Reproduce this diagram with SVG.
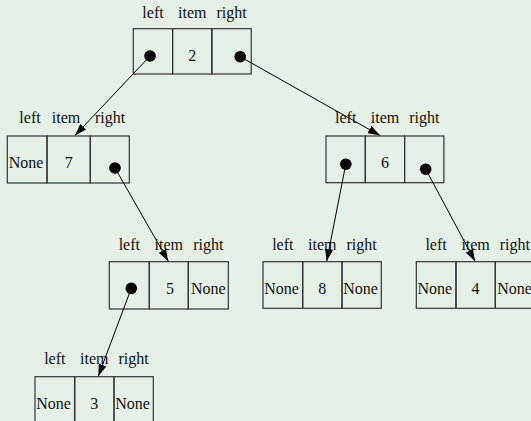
<svg xmlns="http://www.w3.org/2000/svg" width="531" height="421" viewBox="0 0 531 421">
  <defs>
    <marker id="arrow" viewBox="0 0 12 8" refX="12" refY="4" markerWidth="12" markerHeight="8" markerUnits="userSpaceOnUse" orient="auto">
      <path d="M0,0 L12,4 L0,8 Z" fill="#000"/>
    </marker>
  </defs>
  <style>
    .cell { fill: none; stroke: #333; stroke-width: 1.2; }
    .lbl { font-family: "Liberation Serif", "Times New Roman", serif; font-size: 16px; fill: #111; text-anchor: middle; }
    .dot { fill: #000; }
    .edge { stroke: #000; stroke-width: 1; fill: none; marker-end: url(#arrow); }
  </style>
  <rect x="0" y="0" width="531" height="421" fill="#e6efe5"/>

  <!-- node 2 -->
  <g id="node2">
    <rect class="cell" x="133.3" y="28.7" width="39.3" height="45.3"/>
    <rect class="cell" x="172.6" y="28.7" width="39.3" height="45.3"/>
    <rect class="cell" x="211.9" y="28.7" width="39.3" height="45.3"/>
    <text class="lbl" x="153" y="18">left</text>
    <text class="lbl" x="192.3" y="18">item</text>
    <text class="lbl" x="231.6" y="18">right</text>
    <text class="lbl" x="192.3" y="61">2</text>
    <circle class="dot" cx="150" cy="56" r="5.8"/>
    <circle class="dot" cx="240.2" cy="56.7" r="5.8"/>
  </g>

  <!-- node 7 -->
  <g id="node7">
    <rect class="cell" x="7.3" y="136" width="39.7" height="47"/>
    <rect class="cell" x="47" y="136" width="43.3" height="47"/>
    <rect class="cell" x="90.3" y="136" width="39" height="47"/>
    <text class="lbl" x="30" y="123.3">left</text>
    <text class="lbl" x="66" y="123.3">item</text>
    <text class="lbl" x="110" y="123.3">right</text>
    <text class="lbl" x="26" y="168">None</text>
    <text class="lbl" x="68.7" y="168">7</text>
    <circle class="dot" cx="115" cy="168" r="5.8"/>
  </g>

  <!-- node 6 -->
  <g id="node6">
    <rect class="cell" x="326" y="136" width="39.3" height="46.7"/>
    <rect class="cell" x="365.3" y="136" width="39.3" height="46.7"/>
    <rect class="cell" x="404.6" y="136" width="39.3" height="46.7"/>
    <text class="lbl" x="345.7" y="123.3">left</text>
    <text class="lbl" x="385" y="123.3">item</text>
    <text class="lbl" x="424.3" y="123.3">right</text>
    <text class="lbl" x="385" y="168">6</text>
    <circle class="dot" cx="345.8" cy="164.2" r="5.8"/>
    <circle class="dot" cx="425.7" cy="169.2" r="5.8"/>
  </g>

  <!-- node 5 -->
  <g id="node5">
    <rect class="cell" x="109.3" y="261.7" width="40" height="47.3"/>
    <rect class="cell" x="149.3" y="261.7" width="39" height="47.3"/>
    <rect class="cell" x="188.3" y="261.7" width="40" height="47.3"/>
    <text class="lbl" x="129.3" y="249.5">left</text>
    <text class="lbl" x="168.8" y="249.5">item</text>
    <text class="lbl" x="208.3" y="249.5">right</text>
    <text class="lbl" x="170" y="293.7">5</text>
    <text class="lbl" x="208.3" y="293.7">None</text>
    <circle class="dot" cx="131.3" cy="288.3" r="5.8"/>
  </g>

  <!-- node 8 -->
  <g id="node8">
    <rect class="cell" x="263" y="261.7" width="39.7" height="46.6"/>
    <rect class="cell" x="302.7" y="261.7" width="39.3" height="46.6"/>
    <rect class="cell" x="342" y="261.7" width="39.3" height="46.6"/>
    <text class="lbl" x="282.8" y="249.5">left</text>
    <text class="lbl" x="322.3" y="249.5">item</text>
    <text class="lbl" x="361.6" y="249.5">right</text>
    <text class="lbl" x="281.5" y="293.7">None</text>
    <text class="lbl" x="322.3" y="293.7">8</text>
    <text class="lbl" x="360.5" y="293.7">None</text>
  </g>

  <!-- node 4 -->
  <g id="node4">
    <rect class="cell" x="416.3" y="261.7" width="39.7" height="46.6"/>
    <rect class="cell" x="456" y="261.7" width="39.3" height="46.6"/>
    <rect class="cell" x="495.3" y="261.7" width="39.3" height="46.6"/>
    <text class="lbl" x="436.1" y="249.5">left</text>
    <text class="lbl" x="475.6" y="249.5">item</text>
    <text class="lbl" x="514.9" y="249.5">right</text>
    <text class="lbl" x="434.8" y="293.7">None</text>
    <text class="lbl" x="475.6" y="293.7">4</text>
    <text class="lbl" x="514.5" y="293.7">None</text>
  </g>

  <!-- node 3 -->
  <g id="node3">
    <rect class="cell" x="35" y="376.7" width="39.7" height="46.6"/>
    <rect class="cell" x="74.7" y="376.7" width="39.3" height="46.6"/>
    <rect class="cell" x="114" y="376.7" width="39.3" height="46.6"/>
    <text class="lbl" x="54.8" y="363.5">left</text>
    <text class="lbl" x="94.3" y="363.5">item</text>
    <text class="lbl" x="133.6" y="363.5">right</text>
    <text class="lbl" x="53.5" y="408.7">None</text>
    <text class="lbl" x="94.3" y="408.7">3</text>
    <text class="lbl" x="132.5" y="408.7">None</text>
  </g>

  <!-- pointers -->
  <g id="edges">
    <line class="edge" x1="150" y1="56" x2="75" y2="135.5"/>
    <line class="edge" x1="240.2" y1="56.7" x2="380" y2="135.5"/>
    <line class="edge" x1="115" y1="168" x2="168.3" y2="261.2"/>
    <line class="edge" x1="345.8" y1="164.2" x2="326.7" y2="261.2"/>
    <line class="edge" x1="425.7" y1="169.2" x2="475" y2="261.2"/>
    <line class="edge" x1="131.3" y1="288.3" x2="98.3" y2="376.2"/>
  </g>
</svg>
